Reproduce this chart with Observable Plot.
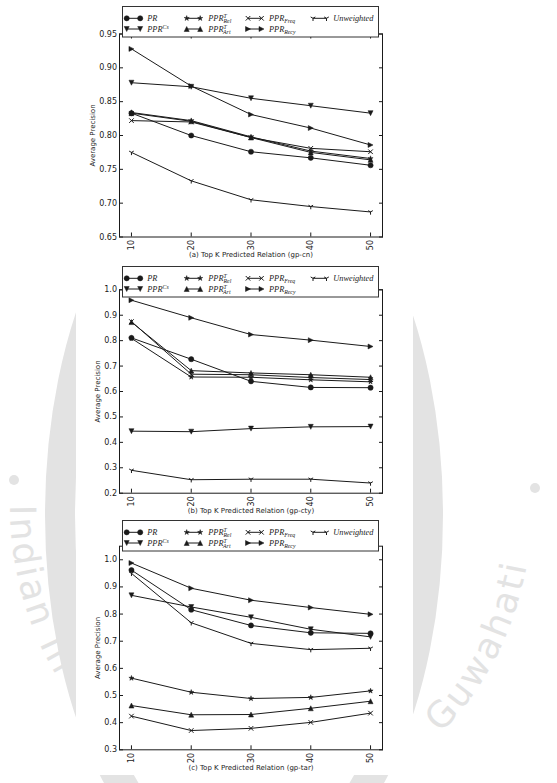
<!DOCTYPE html>
<html><head><meta charset="utf-8">
<script src="https://cdn.jsdelivr.net/npm/d3@7"></script>
<script src="https://cdn.jsdelivr.net/npm/@observablehq/plot@0.6"></script>
<style>
html,body{margin:0;padding:0;background:#fff;}
#root{position:relative;width:557px;height:783px;overflow:hidden;font-family:"DejaVu Sans",sans-serif;}
.abs{position:absolute;left:0;top:0;display:block;}
</style></head><body><div id="root"></div>
<script>
// ---------------- data ----------------
const ks = [10, 20, 30, 40, 50];
const seriesKeys = ["PR", "Cs", "Rel", "Art", "Freq", "Recy", "Unw"];

// (a) gp-cn
const cnPR   = [0.833, 0.800, 0.776, 0.767, 0.756];
const cnCs   = [0.878, 0.872, 0.855, 0.844, 0.833];
const cnRel  = [0.834, 0.822, 0.798, 0.777, 0.766];
const cnArt  = [0.833, 0.821, 0.797, 0.775, 0.764];
const cnFreq = [0.822, 0.820, 0.797, 0.781, 0.776];
const cnRecy = [0.928, 0.873, 0.831, 0.811, 0.786];
const cnUnw  = [0.775, 0.733, 0.705, 0.695, 0.687];
const cnTicks = [0.65, 0.70, 0.75, 0.80, 0.85, 0.90, 0.95];

// (b) gp-cty
const ctyPR   = [0.811, 0.727, 0.640, 0.616, 0.615];
const ctyCs   = [0.444, 0.442, 0.454, 0.461, 0.462];
const ctyRel  = [0.809, 0.657, 0.656, 0.646, 0.638];
const ctyArt  = [0.873, 0.682, 0.673, 0.666, 0.656];
const ctyFreq = [0.875, 0.668, 0.666, 0.655, 0.647];
const ctyRecy = [0.959, 0.890, 0.824, 0.802, 0.777];
const ctyUnw  = [0.290, 0.253, 0.255, 0.255, 0.240];
const ctyTicks = [0.2, 0.3, 0.4, 0.5, 0.6, 0.7, 0.8, 0.9, 1.0];

// (c) gp-tar
const tarPR   = [0.962, 0.816, 0.758, 0.731, 0.729];
const tarCs   = [0.869, 0.826, 0.788, 0.744, 0.716];
const tarRel  = [0.564, 0.512, 0.489, 0.493, 0.517];
const tarArt  = [0.463, 0.429, 0.430, 0.453, 0.479];
const tarFreq = [0.424, 0.371, 0.379, 0.401, 0.435];
const tarRecy = [0.988, 0.895, 0.851, 0.824, 0.799];
const tarUnw  = [0.950, 0.768, 0.692, 0.669, 0.674];
const tarTicks = [0.3, 0.4, 0.5, 0.6, 0.7, 0.8, 0.9, 1.0];

const captions = [
  "(a) Top K Predicted Relation (gp-cn)",
  "(b) Top K Predicted Relation (gp-cty)",
  "(c) Top K Predicted Relation (gp-tar)"
];
const yLabel = "Average Precision";
const watermarkText = "Indian Institute of Technology Guwahati";

const legendLabels = {
  PR:   [["PR"]],
  Cs:   [["PPR"], ["Cs", "sup"]],
  Rel:  [["PPR"], ["T", "sup"], ["Rel", "sub"]],
  Art:  [["PPR"], ["T", "sup"], ["Art", "sub"]],
  Freq: [["PPR"], ["Freq", "sub"]],
  Recy: [["PPR"], ["Recy", "sub"]],
  Unw:  [["Unweighted"]]
};

const panels = [
  {caption: captions[0], domain: [0.65, 0.95], ticks: cnTicks, fmt: ".2f",
   values: {PR: cnPR, Cs: cnCs, Rel: cnRel, Art: cnArt, Freq: cnFreq, Recy: cnRecy, Unw: cnUnw}},
  {caption: captions[1], domain: [0.2, 1.0], ticks: ctyTicks, fmt: ".1f",
   values: {PR: ctyPR, Cs: ctyCs, Rel: ctyRel, Art: ctyArt, Freq: ctyFreq, Recy: ctyRecy, Unw: ctyUnw}},
  {caption: captions[2], domain: [0.3, 1.05], ticks: tarTicks, fmt: ".1f",
   values: {PR: tarPR, Cs: tarCs, Rel: tarRel, Art: tarArt, Freq: tarFreq, Recy: tarRecy, Unw: tarUnw}}
];

// ---------------- layout / style ----------------
const layout = [
  {top: 0,   height: 262, frameTop: 33.5,  frameBottom: 236.5, legendTop: 6,   yLabelLeft: 89.5},
  {top: 262, height: 255, frameTop: 289.3, frameBottom: 492.7, legendTop: 266, yLabelLeft: 95},
  {top: 517, height: 258, frameTop: 545.7, frameBottom: 749.3, legendTop: 520, yLabelLeft: 95}
];
const figLeft = 76, figWidth = 337, frameLeft = 119, frameRight = 382;
const INK = "#1a1a1a";
const WM = "#e3e3e3";

// marker shapes (matplotlib-like)
function rot(x, y, deg) {
  const a = deg * Math.PI / 180, c = Math.cos(a), s = Math.sin(a);
  return [x * c - y * s, x * s + y * c];
}
const symCircle = {draw(ctx, size) { const r = Math.sqrt(size / Math.PI); ctx.moveTo(r, 0); ctx.arc(0, 0, r, 0, 2 * Math.PI); ctx.closePath(); }};
function triSym(deg) {
  return {draw(ctx, size) {
    const r = Math.sqrt(size / Math.PI);
    const p = [[0, -r], [-r, r], [r, r]].map(([x, y]) => rot(x, y, deg));
    ctx.moveTo(p[0][0], p[0][1]); ctx.lineTo(p[1][0], p[1][1]); ctx.lineTo(p[2][0], p[2][1]); ctx.closePath();
  }};
}
const symStar = {draw(ctx, size) {
  const r = Math.sqrt(size / Math.PI), ri = r * 0.382;
  for (let i = 0; i < 10; i++) {
    const rr = i % 2 ? ri : r, a = -Math.PI / 2 + i * Math.PI / 5;
    const x = rr * Math.cos(a), y = rr * Math.sin(a);
    if (i) ctx.lineTo(x, y); else ctx.moveTo(x, y);
  }
  ctx.closePath();
}};
const symX = {draw(ctx, size) { const r = Math.sqrt(size / Math.PI) * 0.85; ctx.moveTo(-r, -r); ctx.lineTo(r, r); ctx.moveTo(-r, r); ctx.lineTo(r, -r); }};
const symTri1 = {draw(ctx, size) {
  const r = Math.sqrt(size / Math.PI);
  ctx.moveTo(0, 0); ctx.lineTo(0, r);
  ctx.moveTo(0, 0); ctx.lineTo(-r * 0.866, -r * 0.5);
  ctx.moveTo(0, 0); ctx.lineTo(r * 0.866, -r * 0.5);
}};
const markers = {
  PR:   {symbol: symCircle,   filled: true,  r: 2.6},
  Cs:   {symbol: triSym(180), filled: true,  r: 2.5},
  Rel:  {symbol: symStar,     filled: true,  r: 2.7},
  Art:  {symbol: triSym(0),   filled: true,  r: 2.5},
  Freq: {symbol: symX,        filled: false, r: 2.7},
  Recy: {symbol: triSym(90),  filled: true,  r: 2.5},
  Unw:  {symbol: symTri1,     filled: false, r: 2.7}
};

const root = document.getElementById("root");

// ---------------- background watermark (only outside the figure area) ----------------
const bg = d3.select(root).append("svg").attr("class", "abs").attr("width", 557).attr("height", 783);
bg.append("ellipse").attr("cx", 244).attr("cy", 515).attr("rx", 184).attr("ry", 360)
  .attr("fill", "none").attr("stroke", WM).attr("stroke-width", 30);
const wmPath = bg.append("path").attr("id", "wmpath").attr("fill", "none")
  .attr("d", "M 10,505 A 261 300 0 0 0 532,505");
const wmText = bg.append("text").attr("font-family", "DejaVu Sans").attr("font-size", 36).attr("fill", WM);
const wmTP = wmText.append("textPath").attr("href", "#wmpath").text(watermarkText);
{
  const total = wmPath.node().getTotalLength();
  wmTP.attr("textLength", total * 0.93).attr("lengthAdjust", "spacing");
  const node = wmText.node();
  const n = node.getNumberOfChars();
  const kept = [];
  for (let i = 0; i < n; i++) {
    const ch = watermarkText[i];
    if (!ch || ch === " ") continue;
    let p, a, e;
    try { p = node.getStartPositionOfChar(i); a = node.getRotationOfChar(i); e = node.getExtentOfChar(i); } catch (err) { continue; }
    const left = e.x, right = e.x + e.width, top = e.y, bottom = e.y + e.height;
    const outside = right < 88 || left > 398;
    const inPage = left >= -1 && right <= 557 && top >= 0 && bottom <= 783;
    if (outside && inPage) kept.push({ch, x: p.x, y: p.y, a});
  }
  wmText.remove();
  kept.forEach(k => bg.append("text").attr("font-family", "DejaVu Sans").attr("font-size", 36).attr("fill", WM)
    .attr("transform", `translate(${k.x},${k.y}) rotate(${k.a})`).text(k.ch));
}
bg.append("circle").attr("cx", 14).attr("cy", 480).attr("r", 5).attr("fill", WM);
bg.append("circle").attr("cx", 535).attr("cy", 488).attr("r", 5).attr("fill", WM);

// ---------------- panels ----------------
panels.forEach((p, pi) => {
  const L = layout[pi];
  const rows = [];
  seriesKeys.forEach(s => p.values[s].forEach((v, i) => rows.push({s, k: ks[i], v})));
  const marks = [
    Plot.axisY(p.ticks, {anchor: "left", tickSize: -4, tickPadding: 6.5, tickFormat: d3.format(p.fmt), fontSize: 8, label: null, stroke: INK, fill: INK}),
    Plot.axisY(p.ticks, {anchor: "right", tickSize: -4, fill: "none", stroke: INK}),
    Plot.axisX(ks, {anchor: "bottom", tickSize: -4, tickPadding: 7, tickRotate: -90, textAnchor: "end", fontSize: 8, label: null, stroke: INK, fill: INK}),
    Plot.axisX(ks, {anchor: "top", tickSize: -4, fill: "none", stroke: INK}),
    Plot.axisX([], {anchor: "bottom", tickSize: 0, label: p.caption, labelAnchor: "center", labelArrow: "none", labelOffset: 20, fontSize: 7, fill: INK}),
    Plot.axisY([], {anchor: "left", tickSize: 0, label: yLabel, labelAnchor: "center", labelArrow: "none", labelOffset: frameLeft - L.yLabelLeft, fontSize: 7, fill: INK})
  ];
  seriesKeys.forEach(s => {
    const data = rows.filter(r => r.s === s);
    const m = markers[s];
    marks.push(Plot.line(data, {x: "k", y: "v", stroke: INK, strokeWidth: 1}));
    marks.push(Plot.dot(data, {x: "k", y: "v", symbol: m.symbol, r: m.r,
      fill: m.filled ? INK : "none", stroke: INK, strokeWidth: m.filled ? 0.5 : 1}));
  });
  marks.push(Plot.frame({stroke: INK, strokeWidth: 1}));

  const chart = Plot.plot({
    width: figWidth, height: L.height,
    marginLeft: frameLeft - figLeft, marginRight: figLeft + figWidth - frameRight,
    marginTop: L.frameTop - L.top, marginBottom: L.top + L.height - L.frameBottom,
    style: {background: "white", fontFamily: "DejaVu Sans", fontSize: "8px", color: INK, overflow: "visible"},
    x: {type: "linear", domain: [8, 52]},
    y: {type: "linear", domain: p.domain},
    marks
  });
  chart.classList.add("abs");
  chart.style.left = figLeft + "px";
  chart.style.top = L.top + "px";
  root.appendChild(chart);

  // legend (drawn over the plot, like matplotlib's legend box)
  const lg = d3.select(root).append("svg").attr("class", "abs")
    .style("top", (L.legendTop - 2) + "px").attr("width", 557).attr("height", 36);
  const bx = 122, by = 2;
  lg.append("rect").attr("x", bx + 0.5).attr("y", by + 0.5).attr("width", 256).attr("height", 30.5)
    .attr("fill", "white").attr("stroke", "#333").attr("stroke-width", 1);
  const colLine = [4.7, 64.7, 126, 191], colText = [25.3, 86.3, 147, 211.3];
  const rowY = [12.3, 23];
  seriesKeys.forEach((s, i) => {
    const col = Math.floor(i / 2), row = i % 2;
    const y = by + rowY[row];
    const x0 = bx + colLine[col], x1 = x0 + 13.5;
    const m = markers[s];
    lg.append("line").attr("x1", x0).attr("x2", x1).attr("y1", y).attr("y2", y)
      .attr("stroke", INK).attr("stroke-width", 1);
    const path = d3.symbol(m.symbol, m.r * m.r * Math.PI)();
    [x0, x1].forEach(x => lg.append("path").attr("d", path).attr("transform", `translate(${x},${y})`)
      .attr("fill", m.filled ? INK : "none").attr("stroke", INK).attr("stroke-width", m.filled ? 0.5 : 1));
    const t = lg.append("text").attr("x", bx + colText[col]).attr("y", y + 2.9)
      .attr("font-family", "Liberation Serif, serif").attr("font-style", "italic")
      .attr("font-size", 8.3).attr("fill", INK);
    let cur = 0, lastW = 0;
    legendLabels[s].forEach(([txt, kind]) => {
      const ts = t.append("tspan").text(txt);
      if (kind === "sup") {
        ts.attr("dy", -3.2 - cur).attr("font-size", 5.8); cur = -3.2;
        lastW = ts.node().getComputedTextLength();
      } else if (kind === "sub") {
        if (cur < 0) ts.attr("dx", -lastW);
        ts.attr("dy", 2.2 - cur).attr("font-size", 5.8); cur = 2.2;
      }
    });
  });
});
</script></body></html>
